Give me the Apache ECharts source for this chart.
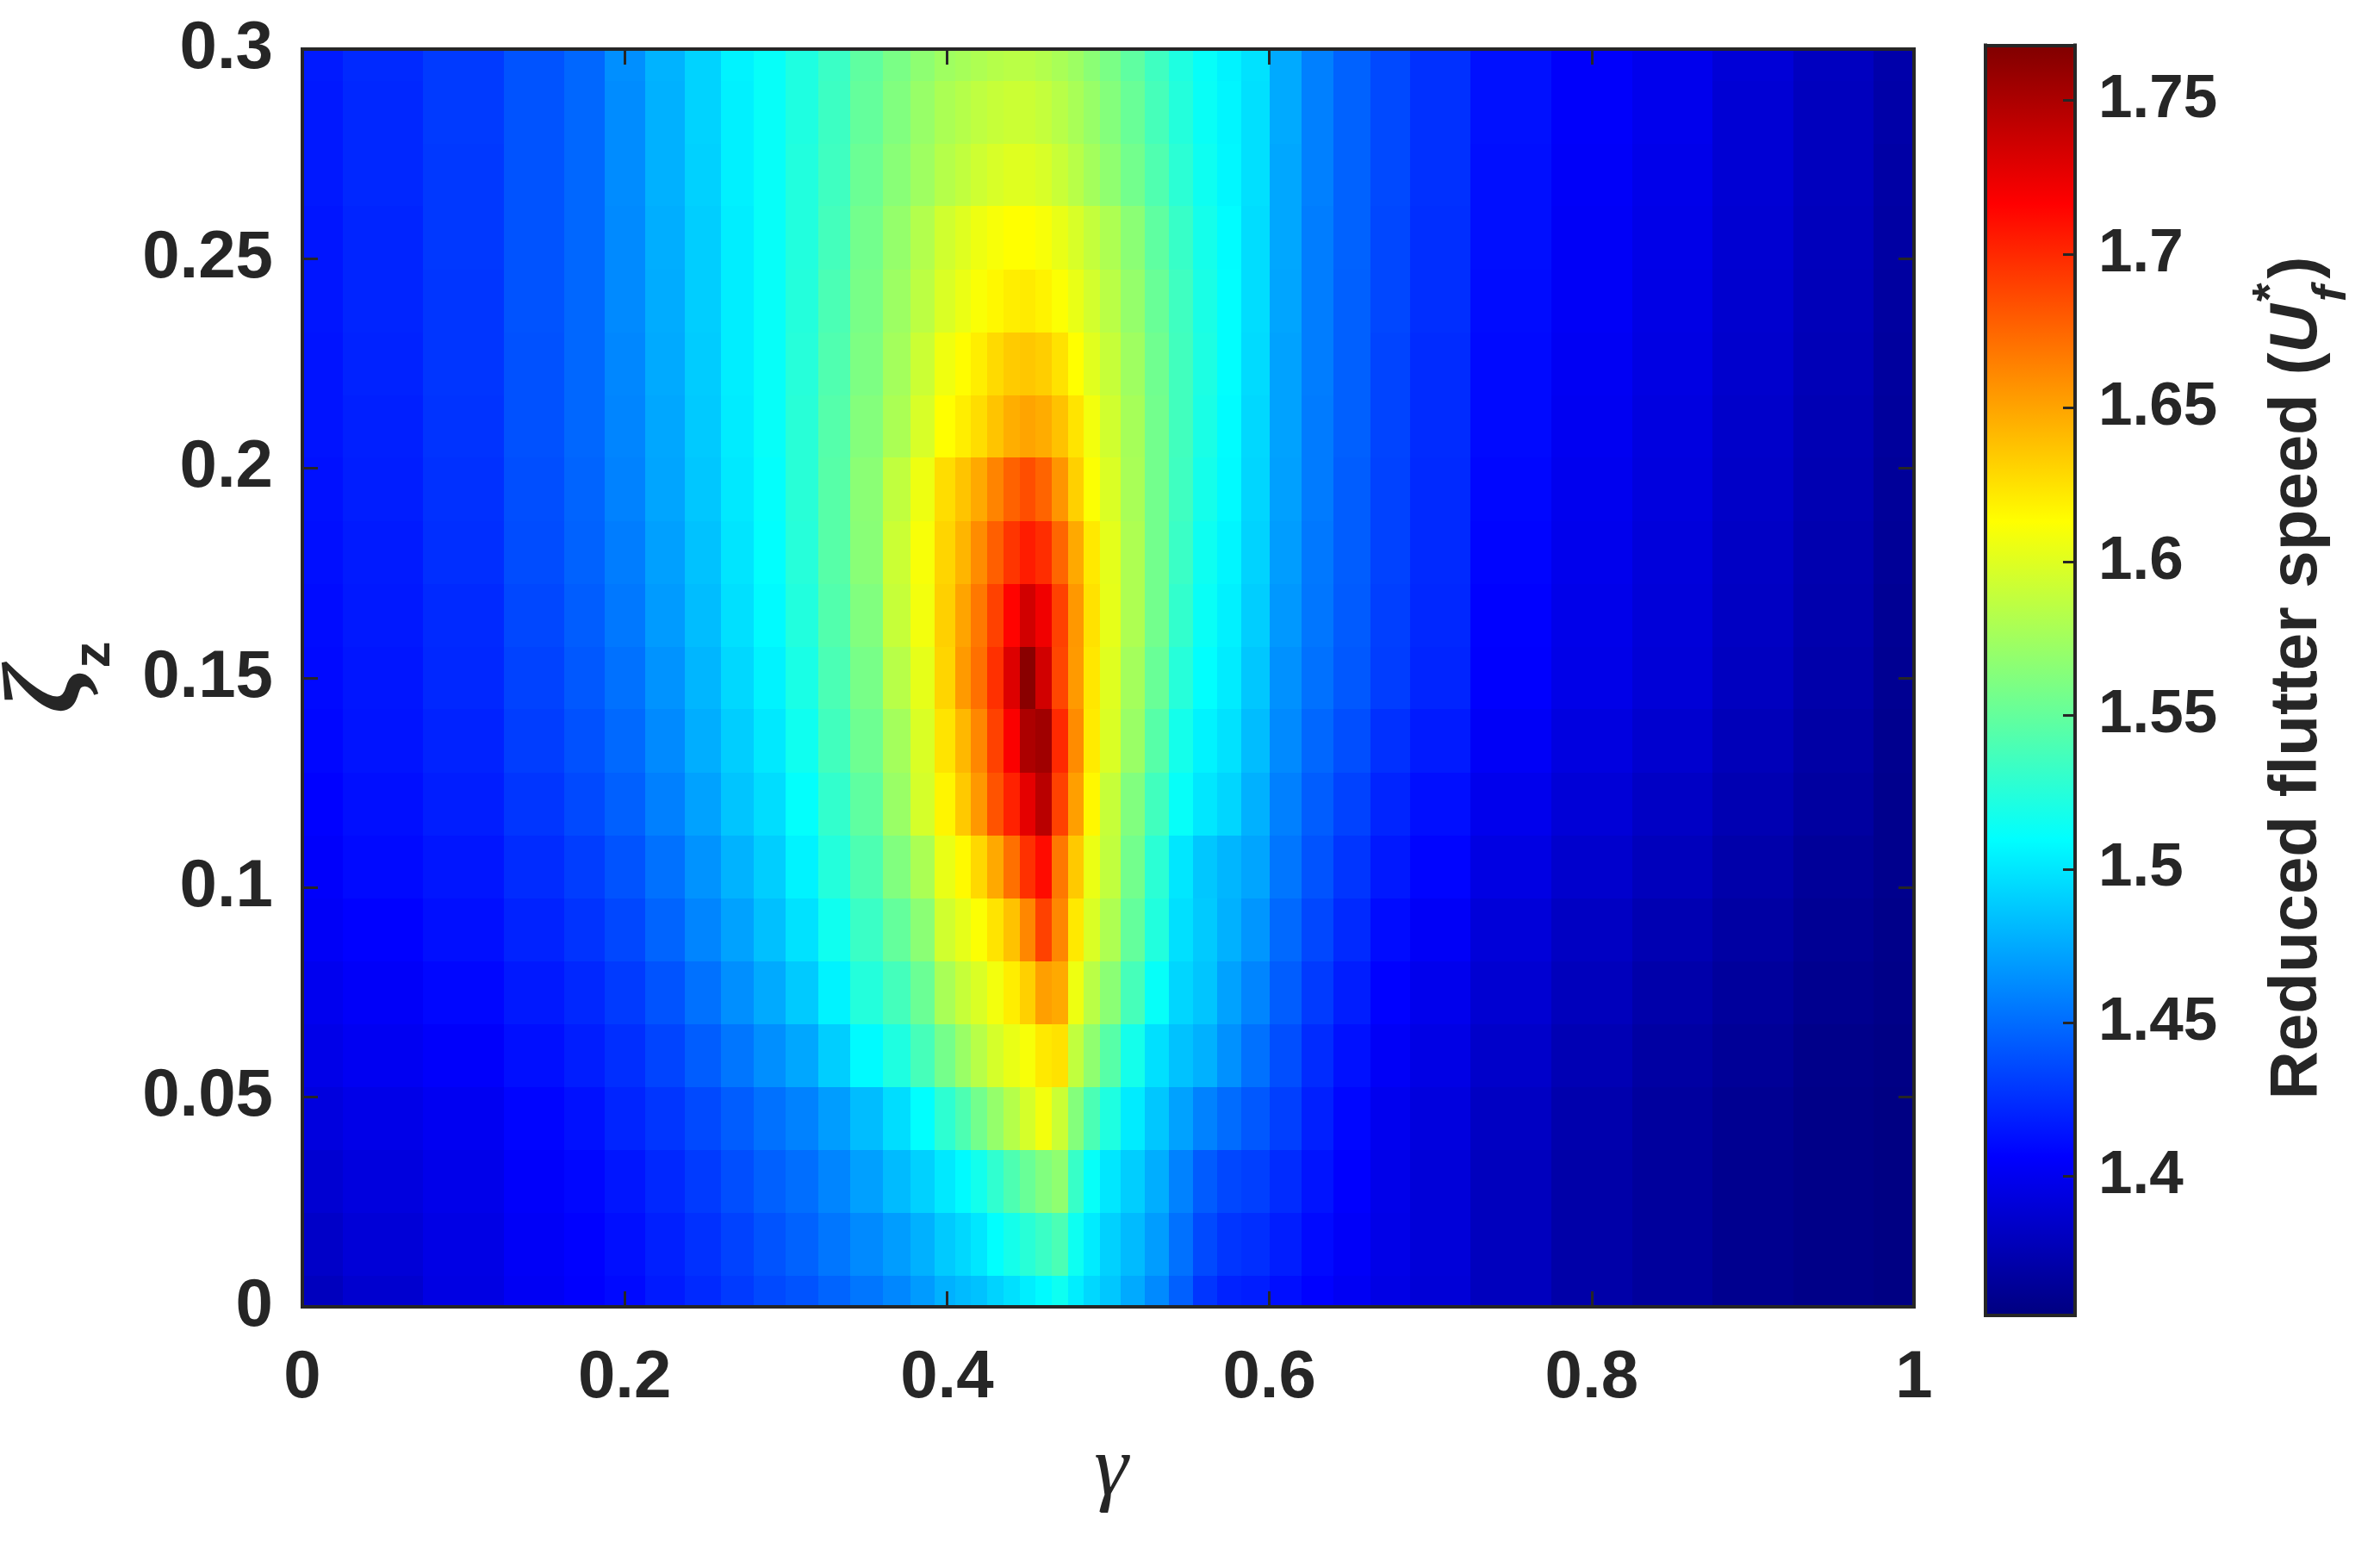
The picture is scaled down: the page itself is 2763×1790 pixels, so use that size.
<!DOCTYPE html>
<html><head><meta charset="utf-8">
<script src="https://cdn.jsdelivr.net/npm/echarts@6/dist/echarts.min.js"></script>
<style>html,body{margin:0;padding:0;background:#fff}#c{width:2763px;height:1790px}</style>
</head><body><div id="c"></div>
<script>
// ---- data ----
const gammaVals = [0, 0.05, 0.10, 0.15, 0.175, 0.20, 0.225, 0.25, 0.27, 0.29, 0.31, 0.33, 0.35,
  0.37, 0.385, 0.40, 0.41, 0.42, 0.43, 0.44, 0.45, 0.46, 0.47, 0.48, 0.49, 0.50, 0.515, 0.53, 0.545, 0.56, 0.575,
  0.59, 0.61, 0.63, 0.65, 0.675, 0.70, 0.75, 0.80, 0.85, 0.90, 0.95, 1.00];
const zetaVals = [0, 0.015, 0.03, 0.045, 0.06, 0.075, 0.09, 0.105, 0.12, 0.135, 0.15, 0.165, 0.18, 0.195, 0.21, 0.225, 0.24, 0.255, 0.27, 0.285, 0.30];

const uf_z000 = [1.380,1.387,1.395,1.402,1.406,1.410,1.417,1.423,1.430,1.436,1.440,1.447,1.454, 1.461,1.469,1.478,1.482,1.485,1.492,1.497,1.503,1.508,1.515,1.503,1.494,1.487,1.475,1.462,1.445,1.428,1.420, 1.418,1.412,1.407,1.402,1.396,1.390,1.380,1.371,1.366,1.361,1.358,1.356];
const uf_z015 = [1.384,1.390,1.396,1.403,1.407,1.412,1.419,1.426,1.433,1.440,1.446,1.454,1.462, 1.470,1.478,1.488,1.494,1.500,1.510,1.518,1.526,1.533,1.540,1.515,1.502,1.491,1.482,1.470,1.452,1.436,1.428, 1.425,1.418,1.410,1.404,1.397,1.391,1.380,1.371,1.366,1.361,1.358,1.356];
const uf_z030 = [1.388,1.393,1.398,1.405,1.409,1.415,1.422,1.430,1.438,1.445,1.451,1.460,1.471, 1.482,1.491,1.501,1.508,1.517,1.529,1.541,1.552,1.562,1.568,1.532,1.512,1.500,1.490,1.477,1.459,1.443,1.435, 1.432,1.424,1.414,1.406,1.398,1.391,1.380,1.371,1.366,1.361,1.358,1.356];
const uf_z045 = [1.393,1.397,1.401,1.408,1.413,1.421,1.428,1.436,1.444,1.452,1.459,1.470,1.483, 1.496,1.510,1.528,1.541,1.556,1.570,1.583,1.596,1.608,1.592,1.563,1.540,1.522,1.502,1.487,1.472,1.459,1.450, 1.442,1.432,1.419,1.409,1.400,1.393,1.382,1.373,1.367,1.362,1.358,1.356];
const uf_z060 = [1.397,1.401,1.405,1.412,1.418,1.425,1.434,1.444,1.454,1.464,1.474,1.490,1.508, 1.522,1.538,1.557,1.572,1.584,1.596,1.604,1.610,1.622,1.625,1.588,1.568,1.545,1.518,1.497,1.485,1.478,1.465, 1.452,1.438,1.424,1.413,1.403,1.396,1.385,1.376,1.369,1.364,1.359,1.357];
const uf_z075 = [1.400,1.404,1.409,1.416,1.422,1.430,1.440,1.452,1.464,1.475,1.488,1.505,1.524, 1.537,1.553,1.578,1.590,1.598,1.608,1.620,1.632,1.652,1.648,1.606,1.585,1.566,1.538,1.512,1.493,1.486,1.472, 1.460,1.444,1.430,1.418,1.407,1.399,1.388,1.379,1.372,1.366,1.361,1.358];
const uf_z090 = [1.403,1.407,1.412,1.420,1.427,1.435,1.447,1.460,1.472,1.484,1.498,1.516,1.533, 1.550,1.566,1.594,1.603,1.612,1.624,1.638,1.662,1.690,1.662,1.622,1.598,1.580,1.550,1.523,1.497,1.488,1.478, 1.467,1.449,1.435,1.423,1.411,1.403,1.391,1.382,1.375,1.369,1.363,1.359];
const uf_z105 = [1.405,1.410,1.415,1.424,1.431,1.440,1.452,1.466,1.479,1.490,1.505,1.524,1.541, 1.562,1.579,1.604,1.615,1.629,1.648,1.671,1.697,1.712,1.668,1.635,1.605,1.588,1.556,1.527,1.500,1.487,1.480, 1.473,1.454,1.440,1.428,1.416,1.408,1.395,1.386,1.379,1.372,1.365,1.360];
const uf_z120 = [1.407,1.412,1.418,1.428,1.436,1.445,1.458,1.472,1.486,1.496,1.511,1.530,1.548, 1.572,1.596,1.617,1.635,1.655,1.683,1.703,1.727,1.745,1.690,1.652,1.616,1.590,1.562,1.536,1.512,1.500,1.493, 1.478,1.458,1.444,1.433,1.421,1.412,1.399,1.390,1.383,1.375,1.368,1.360];
const uf_z135 = [1.409,1.414,1.420,1.431,1.439,1.449,1.462,1.477,1.490,1.501,1.516,1.536,1.554, 1.576,1.598,1.624,1.642,1.662,1.690,1.718,1.750,1.755,1.700,1.660,1.621,1.598,1.572,1.545,1.518,1.505,1.498, 1.483,1.462,1.448,1.438,1.426,1.417,1.403,1.394,1.387,1.378,1.370,1.361];
const uf_z150 = [1.410,1.415,1.422,1.433,1.442,1.452,1.466,1.480,1.494,1.505,1.520,1.540,1.558, 1.584,1.603,1.630,1.654,1.671,1.697,1.730,1.764,1.735,1.688,1.654,1.623,1.600,1.576,1.552,1.525,1.510,1.502, 1.487,1.465,1.452,1.442,1.431,1.421,1.406,1.397,1.390,1.381,1.372,1.362];
const uf_z165 = [1.411,1.416,1.423,1.435,1.444,1.455,1.469,1.483,1.497,1.508,1.523,1.543,1.562, 1.590,1.608,1.632,1.650,1.668,1.690,1.715,1.735,1.722,1.690,1.655,1.625,1.603,1.580,1.556,1.530,1.513,1.504, 1.490,1.468,1.454,1.443,1.432,1.422,1.407,1.398,1.391,1.382,1.373,1.363];
const uf_z180 = [1.412,1.417,1.425,1.437,1.446,1.457,1.471,1.485,1.499,1.510,1.525,1.545,1.565, 1.592,1.610,1.630,1.643,1.660,1.678,1.695,1.705,1.698,1.675,1.648,1.622,1.602,1.580,1.556,1.533,1.515,1.506, 1.492,1.470,1.455,1.444,1.433,1.423,1.408,1.399,1.392,1.383,1.374,1.364];
const uf_z195 = [1.413,1.418,1.426,1.438,1.447,1.459,1.473,1.487,1.501,1.511,1.526,1.545,1.566, 1.588,1.606,1.627,1.637,1.648,1.663,1.677,1.685,1.676,1.656,1.632,1.612,1.598,1.578,1.556,1.535,1.518,1.508, 1.493,1.471,1.456,1.444,1.433,1.423,1.409,1.400,1.393,1.384,1.375,1.365];
const uf_z210 = [1.414,1.419,1.427,1.439,1.448,1.460,1.474,1.488,1.502,1.512,1.526,1.544,1.563, 1.579,1.597,1.613,1.620,1.627,1.637,1.646,1.650,1.647,1.638,1.624,1.608,1.594,1.577,1.556,1.536,1.520,1.509, 1.494,1.472,1.456,1.445,1.434,1.424,1.410,1.401,1.394,1.385,1.376,1.366];
const uf_z225 = [1.414,1.420,1.428,1.439,1.448,1.461,1.475,1.489,1.503,1.512,1.525,1.542,1.560, 1.576,1.592,1.607,1.614,1.620,1.628,1.634,1.636,1.633,1.625,1.613,1.601,1.590,1.574,1.555,1.536,1.521,1.510, 1.495,1.472,1.457,1.445,1.434,1.424,1.410,1.402,1.395,1.386,1.377,1.367];
const uf_z240 = [1.415,1.421,1.428,1.440,1.448,1.462,1.476,1.490,1.503,1.512,1.524,1.540,1.558, 1.573,1.586,1.598,1.605,1.611,1.616,1.620,1.621,1.618,1.612,1.604,1.595,1.585,1.570,1.552,1.535,1.520,1.510, 1.496,1.473,1.457,1.445,1.435,1.425,1.411,1.403,1.396,1.387,1.378,1.368];
const uf_z255 = [1.415,1.421,1.429,1.440,1.448,1.462,1.477,1.490,1.503,1.512,1.523,1.537,1.556, 1.570,1.582,1.594,1.600,1.606,1.610,1.613,1.613,1.610,1.604,1.597,1.589,1.580,1.566,1.548,1.532,1.518,1.509, 1.496,1.474,1.457,1.446,1.435,1.425,1.412,1.403,1.397,1.388,1.379,1.369];
const uf_z270 = [1.416,1.422,1.429,1.440,1.448,1.463,1.478,1.491,1.504,1.512,1.523,1.535,1.553, 1.565,1.574,1.583,1.588,1.593,1.597,1.600,1.600,1.597,1.591,1.584,1.576,1.568,1.556,1.542,1.527,1.515,1.507, 1.497,1.474,1.458,1.446,1.436,1.426,1.412,1.404,1.398,1.389,1.380,1.370];
const uf_z285 = [1.416,1.422,1.430,1.440,1.448,1.463,1.478,1.492,1.504,1.512,1.522,1.534,1.550, 1.562,1.571,1.579,1.583,1.587,1.590,1.592,1.592,1.589,1.584,1.578,1.571,1.563,1.552,1.538,1.524,1.513,1.506, 1.497,1.475,1.458,1.446,1.436,1.426,1.413,1.405,1.399,1.389,1.380,1.371];
const uf_z300 = [1.417,1.423,1.430,1.440,1.448,1.464,1.479,1.492,1.505,1.512,1.522,1.533,1.548, 1.559,1.567,1.574,1.577,1.580,1.583,1.585,1.585,1.582,1.578,1.573,1.566,1.559,1.548,1.535,1.522,1.512,1.505, 1.498,1.475,1.458,1.446,1.436,1.426,1.413,1.405,1.399,1.390,1.381,1.372];

const ufRows = [uf_z000, uf_z015, uf_z030, uf_z045, uf_z060, uf_z075, uf_z090, uf_z105, uf_z120, uf_z135, uf_z150,
  uf_z165, uf_z180, uf_z195, uf_z210, uf_z225, uf_z240, uf_z255, uf_z270, uf_z285, uf_z300];

const xTickStep = 0.2;
const yTickStep = 0.05;
const cbTicks = [1.4, 1.45, 1.5, 1.55, 1.6, 1.65, 1.7, 1.75];
const cMin = 1.3548, cMax = 1.768;

// ---- colormap (MATLAB jet) ----
const jet = ['#000080','#0000ff','#0080ff','#00ffff','#80ff80','#ffff00','#ff8000','#ff0000','#800000'];

// cell edges (midpoints between grid nodes, clipped to the axes)
function edges(v, lo, hi) {
  const e = [lo];
  for (let i = 1; i < v.length; i++) e.push((v[i - 1] + v[i]) / 2);
  e.push(hi);
  return e;
}
const gE = edges(gammaVals, 0, 1);
const zE = edges(zetaVals, 0, 0.3);
const cells = [];
ufRows.forEach((row, j) => {
  row.forEach((v, i) => {
    cells.push([gammaVals[i], zetaVals[j], v, gE[i], gE[i + 1], zE[j], zE[j + 1]]);
  });
});

const INK = '#262626';
const SANS = '"Liberation Sans", Arial, Helvetica, sans-serif';
const SERIF = '"Liberation Serif", "Times New Roman", serif';
const frameLine = { show: true, onZero: false, lineStyle: { color: INK, width: 4, cap: 'square' } };
const tickIn = (len) => ({ show: true, inside: true, length: len, lineStyle: { color: INK, width: 3 } });
const tickFont = { fontSize: 78, fontWeight: 'bold', fontFamily: SANS, color: INK };

// text measurement for title layout
const mctx = document.createElement('canvas').getContext('2d');
function tw(text, font) { mctx.font = font; return mctx.measureText(text).width; }

const chart = echarts.init(document.getElementById('c'), null, { renderer: 'canvas' });

// colour-bar title pieces
const cbMain = 'Reduced flutter speed (';
const w1 = tw(cbMain, 'bold 78px ' + SANS);
const wU = tw('U', 'italic bold 78px ' + SANS);
const wf = tw('f', 'italic bold 56px ' + SANS);
const ws = tw('*', 'bold 56px ' + SANS);
const wp = tw(')', 'bold 78px ' + SANS);
const subW = Math.max(wf, ws);
const cbTotal = w1 + wU + 3 + subW + 5 + wp;
const cbX0 = -cbTotal / 2;
const wZeta = tw('ζ', 'italic bold 128px ' + SERIF);

const option = {
  animation: false,
  backgroundColor: '#ffffff',
  grid: [
    { left: 351, top: 57, width: 1871, height: 1460, outerBoundsMode: 'none', containLabel: false },
    { left: 2305, top: 52.5, width: 104, height: 1474.5, outerBoundsMode: 'none', containLabel: false }
  ],
  xAxis: [
    { gridIndex: 0, type: 'value', min: 0, max: 1, interval: xTickStep, position: 'bottom', z: 10,
      axisLine: frameLine, axisTick: tickIn(18), splitLine: { show: false },
      axisLabel: Object.assign({ margin: 44 }, tickFont) },
    { gridIndex: 0, type: 'value', min: 0, max: 1, interval: xTickStep, position: 'top', z: 10,
      axisLine: frameLine, axisTick: tickIn(18), splitLine: { show: false }, axisLabel: { show: false } },
    { gridIndex: 1, type: 'value', min: 0, max: 1, position: 'bottom', z: 10,
      axisLine: frameLine, axisTick: { show: false }, splitLine: { show: false }, axisLabel: { show: false } },
    { gridIndex: 1, type: 'value', min: 0, max: 1, position: 'top', z: 10,
      axisLine: frameLine, axisTick: { show: false }, splitLine: { show: false }, axisLabel: { show: false } }
  ],
  yAxis: [
    { gridIndex: 0, type: 'value', min: 0, max: 0.3, interval: yTickStep, position: 'left', z: 10,
      axisLine: frameLine, axisTick: tickIn(18), splitLine: { show: false },
      axisLabel: Object.assign({ margin: 34 }, tickFont) },
    { gridIndex: 0, type: 'value', min: 0, max: 0.3, interval: yTickStep, position: 'right', z: 10,
      axisLine: frameLine, axisTick: tickIn(18), splitLine: { show: false }, axisLabel: { show: false } },
    { gridIndex: 1, type: 'value', min: cMin, max: cMax, position: 'left', z: 10,
      axisLine: frameLine, axisTick: { show: false }, splitLine: { show: false }, axisLabel: { show: false } },
    { gridIndex: 1, type: 'value', min: cMin, max: cMax, position: 'right', z: 10,
      axisLine: frameLine, splitLine: { show: false },
      axisTick: { show: true, inside: true, length: 14, customValues: cbTicks, lineStyle: { color: INK, width: 3 } },
      axisLabel: { customValues: cbTicks, margin: 27, fontSize: 71, fontWeight: 'bold', fontFamily: SANS, color: INK,
                   formatter: (v) => String(+v.toFixed(2)) } }
  ],
  visualMap: {
    type: 'continuous', show: false, min: cMin, max: cMax, dimension: 2, seriesIndex: 0,
    inRange: { color: jet }
  },
  series: [
    {
      type: 'custom', xAxisIndex: 0, yAxisIndex: 0, silent: true, z: 2,
      encode: { x: 0, y: 1 },
      data: cells,
      renderItem: function (params, api) {
        const p0 = api.coord([api.value(3), api.value(6)]);
        const p1 = api.coord([api.value(4), api.value(5)]);
        const x0 = Math.round(p0[0]), y0 = Math.round(p0[1]);
        const x1 = Math.round(p1[0]), y1 = Math.round(p1[1]);
        return { type: 'rect', shape: { x: x0, y: y0, width: x1 - x0, height: y1 - y0 },
                 style: { fill: api.visual('color') } };
      }
    },
    {
      type: 'custom', xAxisIndex: 2, yAxisIndex: 2, silent: true, z: 2,
      encode: { x: [0, 2], y: [1, 3] },
      data: [[0, cMin, 1, cMax]],
      renderItem: function (params, api) {
        const p0 = api.coord([api.value(0), api.value(3)]);
        const p1 = api.coord([api.value(2), api.value(1)]);
        return { type: 'rect', shape: { x: p0[0], y: p0[1], width: p1[0] - p0[0], height: p1[1] - p0[1] },
                 style: { fill: new echarts.graphic.LinearGradient(0, 1, 0, 0,
                   jet.map((c, i) => ({ offset: i / (jet.length - 1), color: c }))) } };
      }
    }
  ],
  graphic: [
    { type: 'text', x: 1290, y: 1709, silent: true,
      style: { text: 'γ', fontSize: 100, fontStyle: 'italic', fontFamily: SERIF, fill: INK,
               align: 'center', verticalAlign: 'middle' } },
    { type: 'group', x: 58, y: 828, rotation: Math.PI / 2, silent: true,
      children: [
        { type: 'text', x: 0, y: 0, style: { text: 'ζ', fontSize: 128, fontStyle: 'italic', fontWeight: 'bold', fontFamily: SERIF, fill: INK, align: 'left', verticalAlign: 'middle' } },
        { type: 'text', x: wZeta - 4, y: 52, style: { text: 'z', fontSize: 62, fontWeight: 'bold', fontFamily: SANS, fill: INK, align: 'left', verticalAlign: 'middle' } }
      ] },
    { type: 'group', x: 2667, y: 787, rotation: Math.PI / 2, silent: true,
      children: [
        { type: 'text', x: cbX0, y: 0, style: { text: cbMain, fontSize: 78, fontWeight: 'bold', fontFamily: SANS, fill: INK, align: 'left', verticalAlign: 'middle' } },
        { type: 'text', x: cbX0 + w1, y: 0, style: { text: 'U', fontSize: 78, fontWeight: 'bold', fontStyle: 'italic', fontFamily: SANS, fill: INK, align: 'left', verticalAlign: 'middle' } },
        { type: 'text', x: cbX0 + w1 + wU + 3, y: 41, style: { text: 'f', fontSize: 56, fontWeight: 'bold', fontStyle: 'italic', fontFamily: SANS, fill: INK, align: 'left', verticalAlign: 'middle' } },
        { type: 'text', x: cbX0 + w1 + wU + 3, y: -29, style: { text: '*', fontSize: 56, fontWeight: 'bold', fontFamily: SANS, fill: INK, align: 'left', verticalAlign: 'middle' } },
        { type: 'text', x: cbX0 + w1 + wU + 3 + subW + 5, y: 0, style: { text: ')', fontSize: 78, fontWeight: 'bold', fontFamily: SANS, fill: INK, align: 'left', verticalAlign: 'middle' } }
      ] }
  ]
};
chart.setOption(option);
</script>
</body></html>
